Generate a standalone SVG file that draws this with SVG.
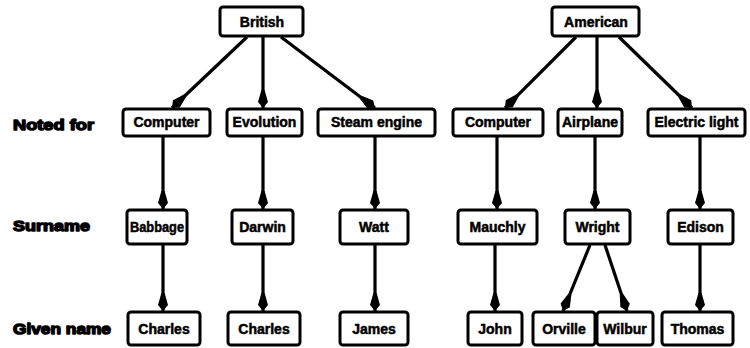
<svg xmlns="http://www.w3.org/2000/svg" width="750" height="348" viewBox="0 0 750 348">
  <style>
    .box rect { fill: #fff; stroke: #000; stroke-width: 3; }
    .box text { font-family: "Liberation Sans", Arial, sans-serif; font-weight: bold; font-size: 14px; fill: #000; text-anchor: middle; stroke: #000; stroke-width: 0.5; }
    .label { font-family: "Liberation Sans", Arial, sans-serif; font-weight: bold; font-size: 15px; fill: #000; stroke: #000; stroke-width: 1.4; stroke-linejoin: round; }
    .edges line { stroke: #000; stroke-width: 3.2; marker-end: url(#head); }
  </style>
  <defs>
    <!-- teardrop arrowhead: broad just behind the point, tapering back into the line -->
    <marker id="head" markerUnits="userSpaceOnUse" viewBox="-20 -6 21 12" refX="0" refY="0" markerWidth="21" markerHeight="12" orient="auto">
      <path d="M0,0 L-6,-5 L-18,-1.6 L-18,1.6 L-6,5 Z" fill="#000"/>
    </marker>
  </defs>

  <rect width="750" height="348" fill="#fff"/>

  <!-- row labels -->
  <g id="row-labels">
    <text class="label" x="13" y="130" textLength="81" lengthAdjust="spacingAndGlyphs">Noted for</text>
    <text class="label" x="13" y="231" textLength="77" lengthAdjust="spacingAndGlyphs">Surname</text>
    <text class="label" x="13" y="334" textLength="98" lengthAdjust="spacingAndGlyphs">Given name</text>
  </g>

  <!-- connectors -->
  <g id="connectors" class="edges">
    <line x1="247" y1="37" x2="172" y2="108"/>
    <line x1="263" y1="37" x2="263" y2="108"/>
    <line x1="281" y1="37" x2="375" y2="108"/>
    <line x1="576" y1="37" x2="505" y2="108"/>
    <line x1="597" y1="37" x2="597" y2="108"/>
    <line x1="619" y1="37" x2="692" y2="108"/>

    <line x1="163" y1="137" x2="163" y2="209"/>
    <line x1="263" y1="137" x2="263" y2="209"/>
    <line x1="375" y1="137" x2="375" y2="209"/>
    <line x1="497" y1="137" x2="497" y2="209"/>
    <line x1="595" y1="137" x2="595" y2="209"/>
    <line x1="700" y1="137" x2="700" y2="209"/>

    <line x1="163" y1="245" x2="163" y2="311"/>
    <line x1="263" y1="245" x2="263" y2="311"/>
    <line x1="375" y1="245" x2="375" y2="311"/>
    <line x1="495" y1="245" x2="495" y2="311"/>
    <line x1="590" y1="245" x2="563" y2="311"/>
    <line x1="605" y1="245" x2="627" y2="311"/>
    <line x1="700" y1="245" x2="700" y2="311"/>
  </g>

  <!-- top level -->
  <g id="british" class="box"><rect x="220" y="7" width="83" height="29" rx="3"/><text x="262" y="27">British</text></g>
  <g id="american" class="box"><rect x="552" y="7" width="87" height="29" rx="3"/><text x="596" y="27">American</text></g>

  <!-- noted for -->
  <g id="computer-uk" class="box"><rect x="123" y="109" width="87" height="27" rx="3"/><text x="166.5" y="127">Computer</text></g>
  <g id="evolution" class="box"><rect x="227" y="109" width="75" height="27" rx="3"/><text x="264.5" y="127">Evolution</text></g>
  <g id="steam-engine" class="box"><rect x="318" y="109" width="117" height="27" rx="3"/><text x="376.5" y="127">Steam engine</text></g>
  <g id="computer-us" class="box"><rect x="453" y="109" width="90" height="27" rx="3"/><text x="498" y="127">Computer</text></g>
  <g id="airplane" class="box"><rect x="558" y="109" width="64" height="27" rx="3"/><text x="590" y="127">Airplane</text></g>
  <g id="electric-light" class="box"><rect x="648" y="109" width="97" height="27" rx="3"/><text x="696.5" y="127">Electric light</text></g>

  <!-- surname -->
  <g id="babbage" class="box"><rect x="127" y="210" width="60" height="34" rx="3"/><text x="157" y="232" textLength="54" lengthAdjust="spacingAndGlyphs">Babbage</text></g>
  <g id="darwin" class="box"><rect x="232" y="210" width="61" height="34" rx="3"/><text x="262.5" y="232">Darwin</text></g>
  <g id="watt" class="box"><rect x="340" y="210" width="68" height="34" rx="3"/><text x="374" y="232">Watt</text></g>
  <g id="mauchly" class="box"><rect x="458" y="210" width="79" height="34" rx="3"/><text x="497.5" y="232">Mauchly</text></g>
  <g id="wright" class="box"><rect x="565" y="210" width="65" height="34" rx="3"/><text x="597.5" y="232">Wright</text></g>
  <g id="edison" class="box"><rect x="668" y="210" width="65" height="34" rx="3"/><text x="700.5" y="232">Edison</text></g>

  <!-- given name -->
  <g id="charles-babbage" class="box"><rect x="128" y="312" width="72" height="33" rx="3"/><text x="164" y="334">Charles</text></g>
  <g id="charles-darwin" class="box"><rect x="228" y="312" width="72" height="33" rx="3"/><text x="264" y="334">Charles</text></g>
  <g id="james" class="box"><rect x="340" y="312" width="68" height="33" rx="3"/><text x="374" y="334">James</text></g>
  <g id="john" class="box"><rect x="468" y="312" width="54" height="33" rx="3"/><text x="495" y="334">John</text></g>
  <g id="orville" class="box"><rect x="533" y="312" width="62" height="33" rx="3"/><text x="564" y="334">Orville</text></g>
  <g id="wilbur" class="box"><rect x="597" y="312" width="56" height="33" rx="3"/><text x="625" y="334">Wilbur</text></g>
  <g id="thomas" class="box"><rect x="662" y="312" width="71" height="33" rx="3"/><text x="697.5" y="334">Thomas</text></g>
</svg>
